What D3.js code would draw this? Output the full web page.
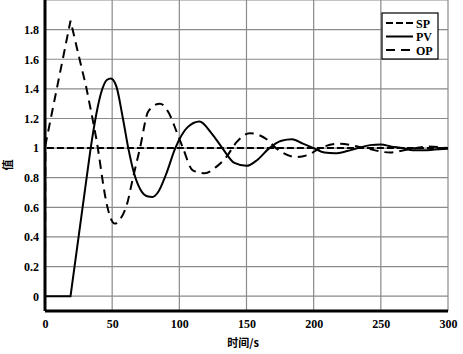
<!DOCTYPE html>
<html>
<head>
<meta charset="utf-8">
<script src="https://cdn.jsdelivr.net/npm/d3@7"></script>
<style>
  body { margin: 0; background: #fff; }
  .tick text { font-family: "Liberation Serif", serif; font-weight: bold; font-size: 12px; }
</style>
</head>
<body>
<div id="chart"></div>
<script>
/////////////////////////////////////////////////////////////////////// Set-Up //////////////////////////////////////////////////////////
const margin = {left: 45, top: 0, right: 15, bottom: 43},
    width = 463 - margin.left - margin.right,
    height = 354 - margin.top - margin.bottom;

const xTicks = [0, 50, 100, 150, 200, 250, 300],
      yTicks = [0, 0.2, 0.4, 0.6, 0.8, 1, 1.2, 1.4, 1.6, 1.8],
      seriesNames = ["SP", "PV", "OP"];

// setpoint
const spTime = [0, 0, 300],
      spValue = [0, 1, 1];

// process value (first 5 points are a straight ramp)
const pvTime = [0, 19, 25, 31, 34, 38, 42, 46, 49, 53, 58, 62, 66, 71, 76, 80, 84, 90, 97, 106, 115, 124, 132, 141, 150, 158, 167, 176, 184, 192, 200, 208, 216, 225, 233, 242, 250, 258, 266, 274, 282, 290, 300],
      pvValue = [0, 0, 0.4, 0.8, 1.0, 1.22, 1.38, 1.46, 1.47, 1.42, 1.2, 1.0, 0.84, 0.72, 0.675, 0.67, 0.7, 0.82, 1.0, 1.14, 1.18, 1.1, 1.0, 0.9, 0.88, 0.92, 1.0, 1.05, 1.06, 1.03, 1.0, 0.97, 0.965, 0.98, 1.0, 1.02, 1.025, 1.01, 1.0, 0.985, 0.985, 0.99, 0.995];

// controller output (first 8 points are straight segments)
const opTime = [0, 0.3, 19, 26, 30.5, 34.7, 38.5, 41, 46, 52, 56, 61, 65.5, 70.7, 77, 85.6, 92, 98, 102.7, 110, 119, 127, 135, 142.6, 152.5, 165, 172, 187, 196, 205, 219.5, 238, 257, 270, 285, 300],
      opValue = [0, 1.02, 1.86, 1.59, 1.42, 1.23, 1.05, 0.9, 0.62, 0.49, 0.52, 0.62, 0.8, 1.0, 1.25, 1.3, 1.24, 1.11, 1.0, 0.85, 0.83, 0.87, 0.94, 1.04, 1.1, 1.06, 1.0, 0.94, 0.955, 1.0, 1.03, 1.0, 0.97, 0.99, 1.01, 1.0];

////////////////////////////////////////////////// Scales ///////////////////////////////////////////////////
const x = d3.scaleLinear().domain([0, 300]).range([0, width]);
const y = d3.scaleLinear().domain([-0.1, 2.0]).range([height, 0]);

const straight = d3.line()
    .x(function(d) { return x(d[0]); })
    .y(function(d) { return y(d[1]); });

const smooth = d3.line()
    .curve(d3.curveMonotoneX)
    .x(function(d) { return x(d[0]); })
    .y(function(d) { return y(d[1]); });

// straight up to index k, smooth after, as one continuous path
function mixedPath(data, k) {
  if (k >= data.length - 1) return straight(data);
  return straight(data.slice(0, k + 1)) + smooth(data.slice(k)).replace(/^M/, "L");
}

const svg = d3.select("#chart")
  .append("svg")
    .attr("width", width + margin.left + margin.right)
    .attr("height", height + margin.top + margin.bottom)
  .append("g")
    .attr("transform", "translate(" + margin.left + "," + margin.top + ")");

////////////////////////////////////////////////// Grid ///////////////////////////////////////////////////
svg.append("g")
  .selectAll("line")
  .data(xTicks.slice(1))
  .enter().append("line")
    .attr("x1", function(d) { return x(d); })
    .attr("x2", function(d) { return x(d); })
    .attr("y1", 0).attr("y2", height)
    .style("stroke", "#8a8a8a").style("stroke-width", 1.2);

svg.append("g")
  .selectAll("line")
  .data(yTicks.concat([2.0]))
  .enter().append("line")
    .attr("x1", 0).attr("x2", width)
    .attr("y1", function(d) { return y(d); })
    .attr("y2", function(d) { return y(d); })
    .style("stroke", "#8a8a8a").style("stroke-width", 1.2);

////////////////////////////////////////////////// Axes ///////////////////////////////////////////////////
const xAxis = svg.append("g")
    .attr("transform", "translate(0," + height + ")")
    .call(d3.axisBottom(x).tickValues(xTicks).tickSize(0).tickPadding(8).tickFormat(d3.format("d")));

const yAxis = svg.append("g")
    .call(d3.axisLeft(y).tickValues(yTicks).tickSize(0).tickPadding(6).tickFormat(function(d) { return d === 0 || d === 1 ? d : d3.format(".1f")(d); }));

xAxis.select(".domain").style("stroke", "#000").style("stroke-width", 3).attr("d", "M0,0H" + width);
yAxis.select(".domain").style("stroke", "#000").style("stroke-width", 3).attr("d", "M0," + height + "V0");

svg.append("text")
    .attr("x", 198).attr("y", 347)
    .attr("text-anchor", "middle")
    .style("font-family", "'Noto Sans CJK SC'").style("font-weight", "bold").style("font-size", "11px")
    .text("时间/s");

svg.append("text")
    .attr("transform", "translate(-33,165) rotate(-90)")
    .attr("text-anchor", "middle")
    .style("font-family", "'Noto Sans CJK SC'").style("font-weight", "bold").style("font-size", "11px")
    .text("值");

////////////////////////////////////////////////// Lines ///////////////////////////////////////////////////
const series = [
  {name: "SP", data: d3.zip(spTime, spValue), dash: "7,3", straightTo: 2},
  {name: "PV", data: d3.zip(pvTime, pvValue), dash: null, straightTo: 4},
  {name: "OP", data: d3.zip(opTime, opValue), dash: "9,6", straightTo: 7}
];

series.forEach(function(s) {
  svg.append("path")
    .attr("d", mixedPath(s.data, s.straightTo))
    .style("fill", "none")
    .style("stroke", "#000")
    .style("stroke-width", 2)
    .style("stroke-dasharray", s.dash);
});

////////////////////////////////////////////////// Legend ///////////////////////////////////////////////////
const legend = svg.append("g")
    .attr("transform", "translate(" + (382 - margin.left) + ",13)");

legend.append("rect")
    .attr("width", 56).attr("height", 46)
    .style("fill", "#fff").style("stroke", "#000").style("stroke-width", 1.2);

series.forEach(function(s, i) {
  const ly = 10 + i * 13.5;
  legend.append("line")
    .attr("x1", 4).attr("x2", 31)
    .attr("y1", ly).attr("y2", ly)
    .style("stroke", "#000").style("stroke-width", 2)
    .style("stroke-dasharray", s.dash);
  legend.append("text")
    .attr("x", 34).attr("y", ly + 4.5)
    .style("font-family", "'Liberation Serif', serif").style("font-weight", "bold").style("font-size", "12px")
    .text(seriesNames[i]);
});
</script>
</body>
</html>
